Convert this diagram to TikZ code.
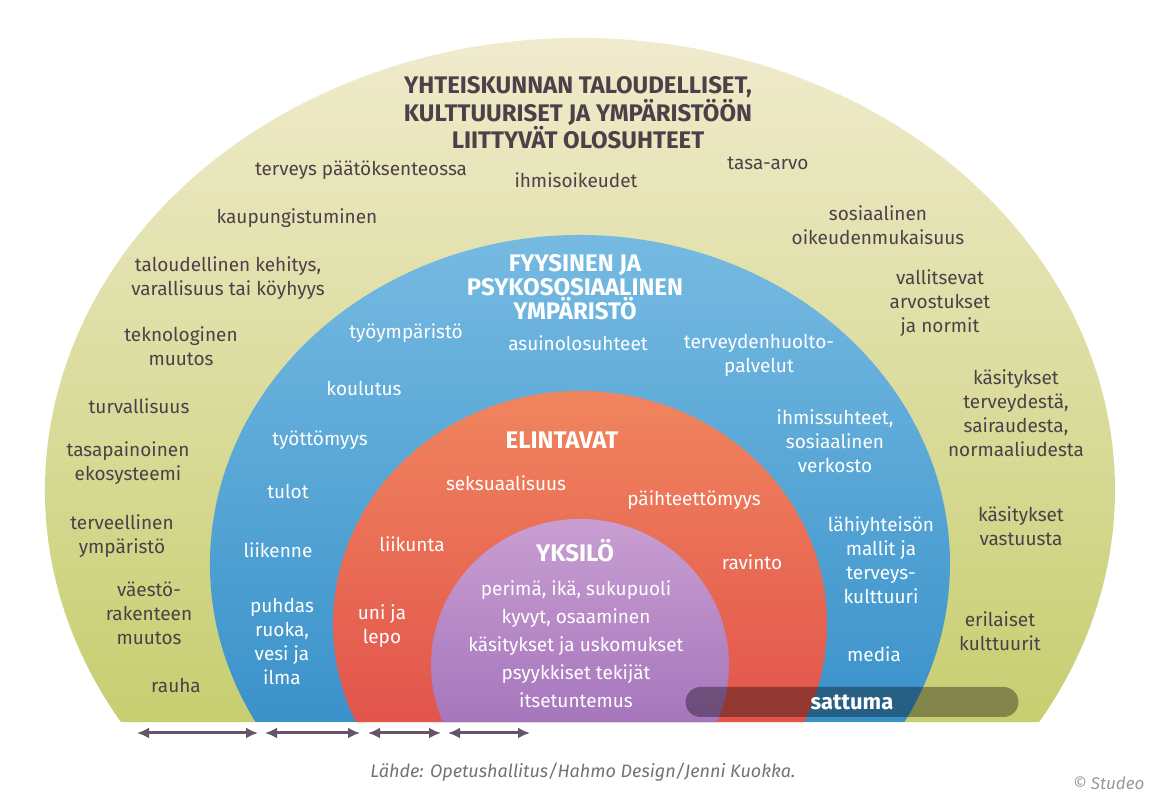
\documentclass[tikz,border=0pt]{standalone}
\usepackage{fontspec}
\setmainfont{Fira Sans}
\usetikzlibrary{arrows.meta}
\definecolor{txtdark}{HTML}{4D4048}
\definecolor{arrcol}{HTML}{66556A}
\tikzset{
  outertext/.style={align=center, text=txtdark, font=\fontsize{19}{24}\selectfont},
  innertext/.style={align=center, text=white, font=\fontsize{19}{24}\selectfont},
  headtext/.style={align=center, font=\fontsize{24}{24}\selectfont\bfseries},
  span/.style={{Latex[length=12pt,width=11pt]}-{Latex[length=12pt,width=11pt]}, arrcol, line width=3pt},
}
\begin{document}
\begin{tikzpicture}[x=1pt,y=1pt]
  \useasboundingbox (0,0) rectangle (1157,800);
  \fill[white] (0,0) rectangle (1157,800);
  % rings
  \shade[top color={rgb,255:red,244;green,238;blue,214}, bottom color={rgb,255:red,199;green,206;blue,112}]
    (580,310) ++(210.9:535pt and 452pt) arc[start angle=210.9,end angle=-30.9,x radius=535pt,y radius=452pt] -- cycle;
  \shade[top color={rgb,255:red,124;green,190;blue,228}, bottom color={rgb,255:red,58;green,146;blue,202}]
    (580,236) ++(208.7:370pt and 329pt) arc[start angle=208.7,end angle=-28.7,x radius=370pt,y radius=329pt] -- cycle;
  \shade[top color={rgb,255:red,242;green,138;blue,96}, bottom color={rgb,255:red,226;green,84;blue,76}]
    (580,176) ++(204.9:247pt and 233pt) arc[start angle=204.9,end angle=-24.9,x radius=247pt,y radius=233pt] -- cycle;
  \shade[top color={rgb,255:red,204;green,162;blue,212}, bottom color={rgb,255:red,166;green,118;blue,188}]
    (580,135) ++(203:149pt and 146pt) arc[start angle=203,end angle=-23,x radius=149pt,y radius=146pt] -- cycle;
  % sattuma
  \node[fill=black, fill opacity=0.35, rounded corners=15pt, minimum width=333pt, minimum height=30pt] (satbar) at (852,98) {};
  \node[text=white, font=\fontsize{22}{24}\selectfont\bfseries] (sattuma) at (satbar) {sattuma};
  % outer ring
  \node[headtext, text=txtdark] (ohead) at (578,687) {YHTEISKUNNAN TALOUDELLISET,\\KULTTUURISET JA YMPÄRISTÖÖN\\LIITTYVÄT OLOSUHTEET};
  \node[outertext] (o1) at (361,630) {terveys päätöksenteossa};
  \node[outertext] (o2) at (576,620) {ihmisoikeudet};
  \node[outertext] (o3) at (768,637) {tasa-arvo};
  \node[outertext] (o4) at (297,582) {kaupungistuminen};
  \node[outertext] (o5) at (878,575) {sosiaalinen\\oikeudenmukaisuus};
  \node[outertext] (o6) at (228,522) {taloudellinen kehitys,\\varallisuus tai köyhyys};
  \node[outertext] (o7) at (940,497) {vallitsevat\\arvostukset\\ja normit};
  \node[outertext] (o8) at (181,454) {teknologinen\\muutos};
  \node[outertext] (o9) at (139,394) {turvallisuus};
  \node[outertext] (o10) at (1016,387) {käsitykset\\terveydestä,\\sairaudesta,\\normaaliudesta};
  \node[outertext] (o11) at (128,337) {tasapainoinen\\ekosysteemi};
  \node[outertext] (o12) at (122,264) {terveellinen\\ympäristö};
  \node[outertext] (o13) at (1021,274) {käsitykset\\vastuusta};
  \node[outertext] (o14) at (149,187) {väestö-\\rakenteen\\muutos};
  \node[outertext] (o15) at (1000,169) {erilaiset\\kulttuurit};
  \node[outertext] (o16) at (176,114) {rauha};
  % blue ring
  \node[headtext, text=white] (bhead) at (575,513) {FYYSINEN JA\\PSYKOSOSIAALINEN\\YMPÄRISTÖ};
  \node[innertext] (b1) at (406,467) {työympäristö};
  \node[innertext] (b2) at (578,457) {asuinolosuhteet};
  \node[innertext] (b3) at (759,445) {terveydenhuolto-\\palvelut};
  \node[innertext] (b4) at (364,412) {koulutus};
  \node[innertext] (b5) at (320,360) {työttömyys};
  \node[innertext] (b6) at (835,359) {ihmissuhteet,\\sosiaalinen\\verkosto};
  \node[innertext] (b7) at (288,309) {tulot};
  \node[innertext] (b8) at (881,240) {lähiyhteisön\\mallit ja\\terveys-\\kulttuuri};
  \node[innertext] (b9) at (278,250) {liikenne};
  \node[innertext] (b10) at (282,159) {puhdas\\ruoka,\\vesi ja\\ilma};
  \node[innertext] (b11) at (874,146) {media};
  % red ring
  \node[headtext, text=white] (rhead) at (562,360) {ELINTAVAT};
  \node[innertext] (r1) at (506,317) {seksuaalisuus};
  \node[innertext] (r2) at (694,300) {päihteettömyys};
  \node[innertext] (r3) at (412,256) {liikunta};
  \node[innertext] (r4) at (752,238) {ravinto};
  \node[innertext] (r5) at (382,174) {uni ja\\lepo};
  % individual
  \node[headtext, text=white] (phead) at (575,249) {YKSILÖ};
  \node[innertext, font=\fontsize{19}{28}\selectfont] (p1) at (576,156) {perimä, ikä, sukupuoli\\kyvyt, osaaminen\\käsitykset ja uskomukset\\psyykkiset tekijät\\itsetuntemus};
  % spans
  \coordinate (s0) at (137,67); \coordinate (s1) at (258,67);
  \coordinate (s2) at (265,67); \coordinate (s3) at (360,67);
  \coordinate (s4) at (368,67); \coordinate (s5) at (441,67);
  \coordinate (s6) at (448,67); \coordinate (s7) at (530,67);
  \draw[span] (s0) -- (s1);
  \draw[span] (s2) -- (s3);
  \draw[span] (s4) -- (s5);
  \draw[span] (s6) -- (s7);
  % credits
  \node[text=black!55, font=\fontsize{18}{20}\selectfont\itshape] (src) at (583,28) {Lähde: Opetushallitus/Hahmo Design/Jenni Kuokka.};
  \node[text=black!40, font=\fontsize{17}{18}\selectfont\itshape, anchor=east] (copy) at (1148,17) {© Studeo};
\end{tikzpicture}
\end{document}
